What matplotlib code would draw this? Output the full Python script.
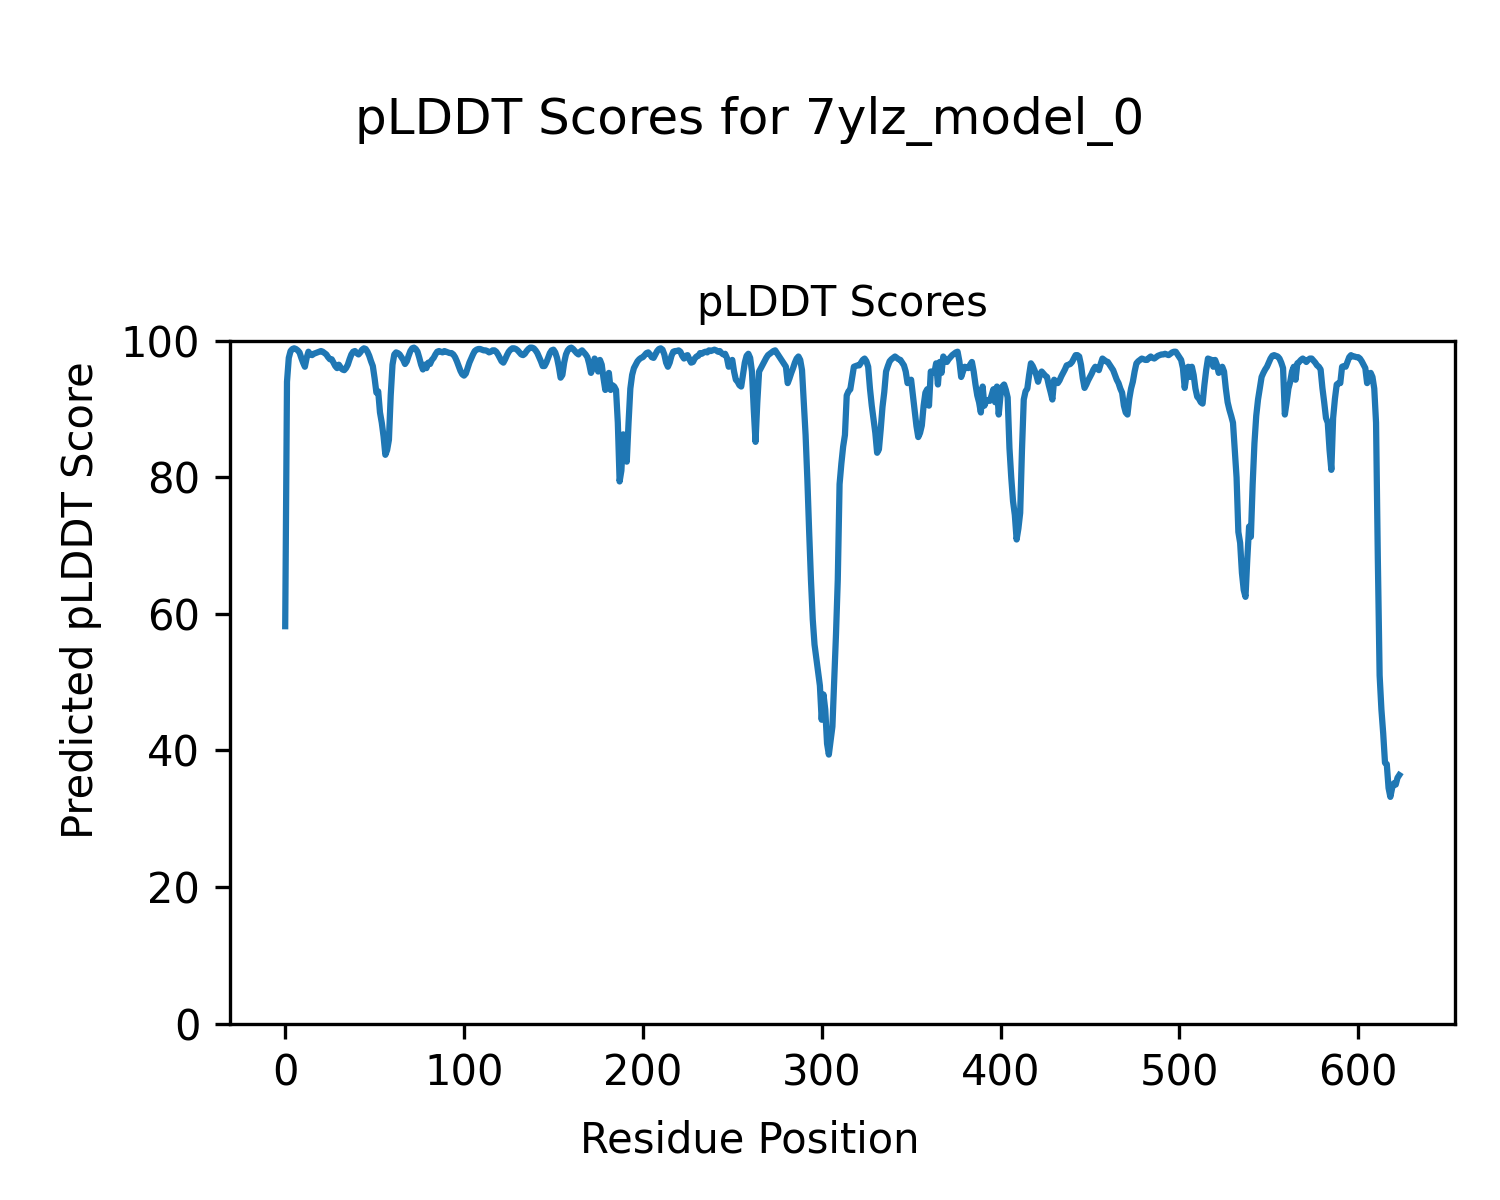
import numpy as np
import matplotlib
matplotlib.use("Agg")
import matplotlib.pyplot as plt

model_name = "7ylz_model_0"

# per-residue pLDDT (residues 0..623)
plddt = [
    58.2, 94.0, 97.5, 98.5, 98.8, 98.9, 98.8, 98.6, 98.3, 97.5,
    96.8, 96.2, 97.5, 98.4, 98.0, 97.9, 98.1, 98.2, 98.3, 98.4,
    98.5, 98.4, 98.2, 98.0, 97.6, 97.3, 97.3, 96.8, 96.3, 96.0,
    96.5, 96.1, 95.8, 95.7, 96.0, 96.5, 97.3, 98.0, 98.4, 98.5,
    98.2, 98.0, 98.3, 98.7, 98.9, 98.8, 98.4, 97.8, 97.0, 96.3,
    94.5, 92.4, 92.6, 89.5, 88.0, 86.0, 83.3, 84.0, 85.5, 92.0,
    96.5, 98.0, 98.3, 98.2, 98.0, 97.6, 97.2, 96.6, 97.0, 97.8,
    98.5, 98.9, 99.0, 98.8, 98.4, 97.5, 96.5, 95.8, 96.5, 96.0,
    96.8, 96.6, 97.2, 97.5, 98.0, 98.4, 98.5, 98.4, 98.3, 98.5,
    98.4, 98.3, 98.2, 98.2, 98.0, 97.6, 97.0, 96.3, 95.6, 95.1,
    94.9, 95.2, 96.0, 96.8, 97.4, 98.0, 98.5, 98.7, 98.8, 98.8,
    98.7, 98.6, 98.6, 98.5, 98.3, 98.4, 98.6, 98.6, 98.4, 98.0,
    97.5, 97.0, 96.8, 97.3, 97.9, 98.4, 98.7, 98.9, 98.9, 98.8,
    98.6, 98.3, 98.0, 97.9, 98.1, 98.5, 98.8, 99.0, 99.0, 98.9,
    98.6, 98.2, 97.6, 97.0, 96.3, 96.3, 96.8, 97.5, 98.2, 98.6,
    98.7, 98.3, 97.5, 96.2, 94.6, 95.0, 96.8, 98.0, 98.6, 98.9,
    99.0, 98.8, 98.5, 98.2, 98.0, 98.4, 98.6, 98.3, 98.0, 97.6,
    96.6, 95.3, 96.0, 97.4, 96.8, 95.5, 97.2, 96.5, 94.5, 92.8,
    94.0, 95.3, 92.8, 93.5, 93.3, 92.8, 88.0, 79.4, 81.0, 86.3,
    84.0, 82.3, 88.0, 93.0, 95.0, 96.0, 96.5, 97.0, 97.3, 97.5,
    97.6, 97.9, 98.2, 98.3, 98.0, 97.6, 97.5, 98.0, 98.5, 98.8,
    98.9, 98.7, 98.0, 96.8, 96.2, 96.8, 97.8, 98.4, 98.5, 98.5,
    98.6, 98.4, 97.8, 97.4, 97.8, 97.9, 97.3, 96.8, 96.9, 97.4,
    97.7, 97.8, 98.2, 98.1, 98.3, 98.4, 98.3, 98.6, 98.5, 98.6,
    98.7, 98.6, 98.4, 98.5, 98.2, 98.0, 98.1, 97.5, 96.2, 96.8,
    97.2, 95.5, 94.3, 94.0, 93.5, 93.3, 95.0, 96.8, 97.8, 98.1,
    97.5, 95.5, 90.0, 85.2, 91.0, 95.5, 96.0, 96.5, 97.0, 97.5,
    97.9, 98.1, 98.3, 98.5, 98.6, 98.2, 97.8, 97.4, 97.0, 96.6,
    96.2, 93.8, 94.5, 95.3, 96.0, 96.8, 97.4, 97.7, 97.2, 95.7,
    91.0, 86.2, 79.6, 72.0, 65.0, 59.2, 55.5, 53.5, 51.5, 49.5,
    44.5, 48.2, 46.0, 41.0, 39.4, 41.5, 43.5, 50.4, 57.0, 65.0,
    79.0, 82.0, 84.5, 86.2, 92.0, 92.6, 92.9, 94.5, 96.2, 96.3,
    96.4, 96.4, 96.8, 97.2, 97.4, 97.0, 96.2, 93.0, 90.5, 88.5,
    86.5, 83.6, 84.1, 87.0, 90.3, 92.5, 95.5, 96.3, 97.0, 97.3,
    97.5, 97.7, 97.5, 97.3, 97.2, 96.8, 96.4, 95.5, 93.8, 94.0,
    94.3, 92.0, 89.6, 87.5, 85.9, 86.5, 87.6, 90.5, 92.4, 92.9,
    90.5, 95.5, 95.5, 95.3, 96.7, 93.6, 96.9, 95.3, 97.7, 97.2,
    96.9, 97.3, 97.6, 97.9, 98.1, 98.3, 98.4, 97.0, 94.7, 95.5,
    96.2, 96.1, 96.0, 96.5, 96.9, 95.5, 93.6, 92.0, 91.0, 89.5,
    93.3, 90.5, 91.2, 91.3, 91.2, 92.0, 92.9, 91.0, 93.3, 89.2,
    92.0, 93.3, 93.6, 92.8, 91.7, 84.3, 80.0, 76.5, 74.5, 70.9,
    72.5, 74.8, 84.0, 91.4, 92.6, 93.0, 95.0, 96.7, 96.3, 95.7,
    95.0, 94.0, 95.0, 95.5, 95.2, 94.9, 94.7, 93.5, 92.5, 91.4,
    94.3, 94.0, 93.8, 94.2, 94.8, 95.3, 95.8, 96.4, 96.5, 96.6,
    96.9, 97.4, 97.9, 97.9, 97.7, 96.5, 94.5, 93.1, 93.6, 94.2,
    94.7, 95.2, 95.8, 96.2, 96.0, 95.7, 96.6, 97.4, 97.2, 97.0,
    96.9, 96.5, 96.1, 95.7, 95.0, 94.3, 93.8, 93.0, 92.4, 90.5,
    89.5, 89.2, 91.5, 93.0, 94.0, 95.5, 96.7, 97.0, 97.2, 97.4,
    97.3, 97.2, 97.2, 97.5, 97.7, 97.5, 97.4, 97.6, 97.8, 97.9,
    98.0, 98.0, 98.1, 98.0, 97.9, 98.1, 98.3, 98.4, 98.4, 98.0,
    97.6, 97.2, 96.0, 93.1, 95.0, 96.2, 94.7, 96.2, 95.0, 93.0,
    91.8, 91.5, 91.0, 90.8, 93.5, 95.7, 97.4, 97.3, 97.2, 96.2,
    97.2, 96.5, 95.3, 95.8, 96.2, 95.5, 93.0, 91.0, 89.9, 89.0,
    88.0, 84.0, 80.0, 72.0, 70.4, 66.0, 63.5, 62.5, 68.0, 72.8,
    71.3, 79.0, 85.0, 89.0, 91.4, 93.0, 94.7, 95.3, 95.8, 96.2,
    96.8, 97.4, 97.8, 97.9, 97.8, 97.7, 97.4, 96.8, 96.0, 89.2,
    91.0, 93.0, 94.0, 95.5, 96.2, 94.3, 96.7, 96.9, 97.2, 97.4,
    97.2, 96.9, 97.2, 97.4, 97.4, 97.1, 96.8, 96.4, 96.2, 95.8,
    93.1, 91.0, 88.7, 88.0, 84.0, 81.1, 88.7, 91.5, 93.6, 93.8,
    93.8, 96.2, 96.3, 96.2, 96.9, 97.6, 97.9, 97.7, 97.7, 97.6,
    97.6, 97.4, 97.0, 96.5, 96.0, 93.8, 94.5, 95.3, 94.7, 93.0,
    88.0, 68.0, 51.0, 46.0, 42.5, 38.2, 38.0, 34.5, 33.2, 34.5,
    35.2, 35.0, 36.0, 36.4,
]

residues = np.arange(len(plddt))

fig = plt.figure(figsize=(5, 4), dpi=300)
ax = fig.add_axes([0.153, 0.147, 0.817, 0.569])

ax.plot(residues, plddt)
ax.set_ylim(0, 100)
ax.set_title("pLDDT Scores", fontsize=10)

fig.suptitle(f"pLDDT Scores for {model_name}", y=0.92)
fig.supxlabel("Residue Position", fontsize=10, y=0.032)
fig.supylabel("Predicted pLDDT Score", fontsize=10, x=0.04)

fig.savefig("out.png", dpi=300)
